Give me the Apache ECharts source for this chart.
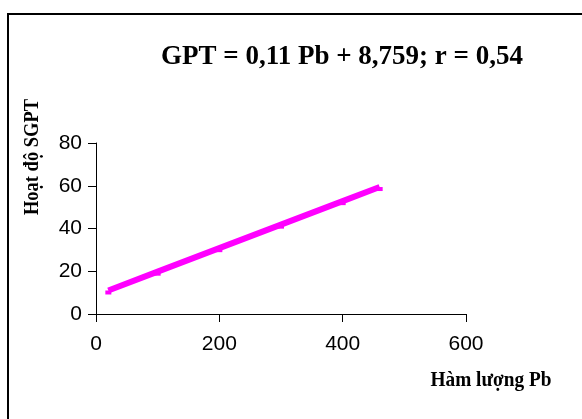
<!DOCTYPE html>
<html>
<head>
<meta charset="utf-8">
<script src="https://cdn.jsdelivr.net/npm/echarts@6/dist/echarts.min.js"></script>
<style>
  html, body { margin: 0; padding: 0; background: #fff; }
  #main { width: 582px; height: 419px; }
</style>
</head>
<body>
<div id="main"></div>
<script>
// regression line (Pb vs SGPT)
const pbValues = [20, 100, 200, 300, 400, 460];
const sgptValues = [11.0, 19.8, 30.8, 41.8, 52.8, 59.4];
const xTicks = [0, 200, 400, 600];
const yTicks = [0, 20, 40, 60, 80];

const titleText = "GPT = 0,11 Pb + 8,759; r = 0,54";
const xName = "Hàm lượng Pb";
const yName = "Hoạt độ SGPT";

const serif = "'Liberation Serif', 'DejaVu Serif', serif";
const sans = "'Liberation Sans', Arial, sans-serif";

const chart = echarts.init(document.getElementById("main"));

const option = {
  animation: false,
  backgroundColor: "#fff",
  grid: { left: 96, top: 143, right: 116, bottom: 105, containLabel: false },
  xAxis: {
    type: "value",
    min: xTicks[0],
    max: xTicks[xTicks.length - 1],
    interval: 200,
    axisLine: { show: true, onZero: false, lineStyle: { color: "#000", width: 1 } },
    axisTick: { show: true, length: 8, lineStyle: { color: "#000" } },
    axisLabel: { color: "#000", fontFamily: sans, fontSize: 21, margin: 20 },
    splitLine: { show: false }
  },
  yAxis: {
    type: "value",
    min: yTicks[0],
    max: yTicks[yTicks.length - 1],
    interval: 20,
    axisLine: { show: true, lineStyle: { color: "#000", width: 1 } },
    axisTick: { show: true, length: 8, lineStyle: { color: "#000" } },
    axisLabel: { color: "#000", fontFamily: sans, fontSize: 21, margin: 14 },
    splitLine: { show: false }
  },
  series: [
    {
      type: "line",
      data: pbValues.map((x, i) => [x, sgptValues[i]]),
      lineStyle: { color: "#ff00ff", width: 6 },
      itemStyle: { color: "#ff00ff" },
      symbol: "rect",
      symbolSize: [6, 4],
      symbolOffset: [0, 2]
    }
  ],
  graphic: [
    {
      type: "rect",
      shape: { x: 8, y: 14, width: 620, height: 460 },
      style: { fill: null, stroke: "#000", lineWidth: 2 },
      silent: true
    },
    {
      type: "text",
      x: 342, y: 57,
      style: {
        text: titleText, fill: "#000", font: "bold 27px " + serif,
        textAlign: "center", textVerticalAlign: "middle"
      }
    },
    {
      type: "text",
      x: 33, y: 157,
      rotation: Math.PI / 2,
      scaleX: 0.88,
      style: {
        text: yName, fill: "#000", font: "bold 21px " + serif,
        textAlign: "center", textVerticalAlign: "middle"
      }
    },
    {
      type: "text",
      x: 491, y: 381,
      scaleX: 0.92,
      style: {
        text: xName, fill: "#000", font: "bold 21px " + serif,
        textAlign: "center", textVerticalAlign: "middle"
      }
    }
  ]
};

chart.setOption(option);
</script>
</body>
</html>
